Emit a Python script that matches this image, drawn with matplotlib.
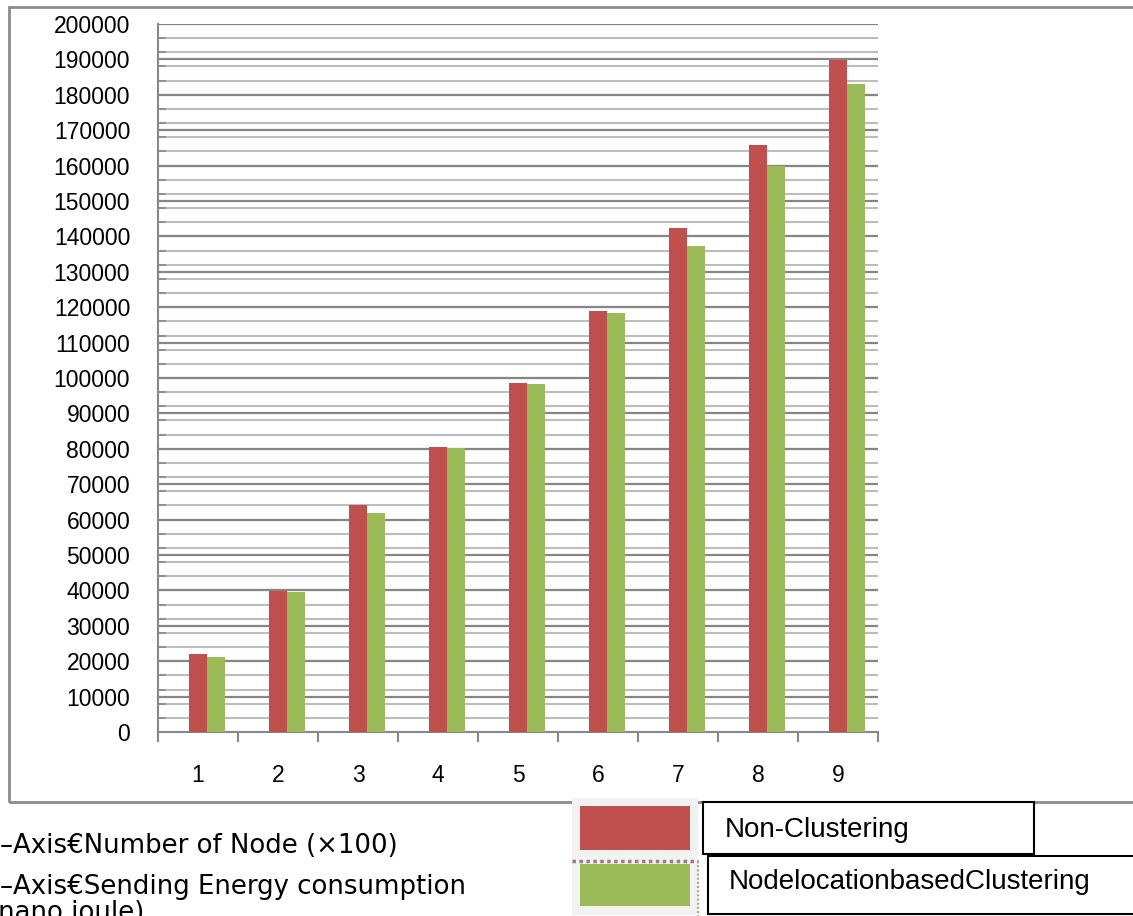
import matplotlib
matplotlib.use("Agg")
import matplotlib.pyplot as plt
from matplotlib.patches import Rectangle
from matplotlib.lines import Line2D
import numpy as np

# values
nodes = [1, 2, 3, 4, 5, 6, 7, 8, 9]
non_clustering = [22000, 39800, 64000, 80500, 98600, 118900, 142400, 165800, 189700]
node_location_clustering = [21200, 39500, 61900, 80200, 98300, 118400, 137300, 159900, 183000]
series_names = ["Non-Clustering", "NodelocationbasedClustering"]
x_caption = "\u2013Axis\u20acNumber of Node (\u00d7100)"
y_caption = "\u2013Axis\u20acSending Energy consumption"
y_caption_2 = "(nano joule)"

RED = "#C0504D"
GREEN = "#9BBB59"
W, H = 1133, 916


def fx(px):
    return px / W


def fy(py):
    return 1 - py / H


fig = plt.figure(figsize=(W / 100, H / 100), dpi=100)
ax = fig.add_axes([fx(158), fy(732), fx(878) - fx(158), fy(24) - fy(732)])

x = np.array(nodes)
bw = 0.225
ax.bar(x - 0.1125, non_clustering, width=bw, align="edge", color=RED, zorder=3)
ax.bar(x + 0.1125, node_location_clustering, width=bw, align="edge", color=GREEN, zorder=3)

ax.set_xlim(0.5, 9.5)
ax.set_ylim(0, 200000)

# gridlines: light every 4000, dark every 10000
for v in np.arange(0, 200001, 4000):
    ax.axhline(v, color="#BDBDBD", lw=1.5, zorder=1)
for v in np.arange(10000, 200001, 10000):
    ax.axhline(v, color="#868686", lw=1.6, zorder=2)

ax.set_yticks(np.arange(0, 200001, 10000))
ax.set_yticks(np.arange(0, 200001, 4000), minor=True)
ax.set_xticks(x)
ax.set_xticks(np.arange(0.5, 9.6, 1), minor=True)

ax.tick_params(axis="y", which="major", length=0, pad=20, labelsize=16.5)
ax.tick_params(axis="y", which="minor", direction="in", length=6, color="#888888", width=1.2)
ax.tick_params(axis="x", which="major", length=0, pad=23, labelsize=16.5)
ax.tick_params(axis="x", which="minor", direction="out", length=7, color="#888888", width=1.5)
for lab in ax.get_xticklabels() + ax.get_yticklabels():
    lab.set_family("Liberation Sans")

for s in ["top", "right"]:
    ax.spines[s].set_visible(False)
for s in ["left", "bottom"]:
    ax.spines[s].set_color("#888888")
    ax.spines[s].set_linewidth(1.5)

# outer chart border (right side runs off the image)
fig.add_artist(Rectangle((fx(9), fy(802)), 1.2, fy(7) - fy(802), transform=fig.transFigure,
                         fill=False, ec="#8C8C8C", lw=2))

# captions below the chart (the last line is cut by the image edge, as in the original)
fig.text(0, fy(853), x_caption, fontsize=18.7, family="DejaVu Sans", va="baseline")
fig.text(0, fy(894), y_caption, fontsize=18.7, family="DejaVu Sans", va="baseline")
fig.text(fx(-12), fy(920), y_caption_2, fontsize=18.7, family="DejaVu Sans", va="baseline")

# legend, drawn as in the original
fig.add_artist(Rectangle((fx(572), fy(915)), fx(126), fy(798) - fy(915), transform=fig.transFigure,
                         fc="#F2F2F2", ec="none"))
fig.add_artist(Rectangle((fx(580), fy(850)), fx(110), fy(806) - fy(850), transform=fig.transFigure,
                         fc=RED, ec="none"))
fig.add_artist(Rectangle((fx(580), fy(906)), fx(110), fy(864) - fy(906), transform=fig.transFigure,
                         fc=GREEN, ec="none"))
fig.add_artist(Line2D([fx(572), fx(698)], [fy(861), fy(861)], transform=fig.transFigure,
                      color="#A07A7C", lw=2.5, ls=(0, (1, 1))))
fig.add_artist(Line2D([fx(698), fx(698)], [fy(861), fy(916)], transform=fig.transFigure,
                      color="#A0A890", lw=1.5, ls=(0, (1, 1))))
fig.add_artist(Rectangle((fx(703), fy(854)), fx(331), fy(802) - fy(854), transform=fig.transFigure,
                         fc="white", ec="black", lw=1.5))
fig.add_artist(Rectangle((fx(708), fy(914)), fx(440), fy(856) - fy(914), transform=fig.transFigure,
                         fc="white", ec="black", lw=1.5))
fig.text(fx(725), fy(830), series_names[0], fontsize=20, family="Liberation Sans", va="center")
fig.text(fx(729), fy(882), series_names[1], fontsize=20, family="Liberation Sans", va="center")

fig.savefig("out.png", dpi=100)
